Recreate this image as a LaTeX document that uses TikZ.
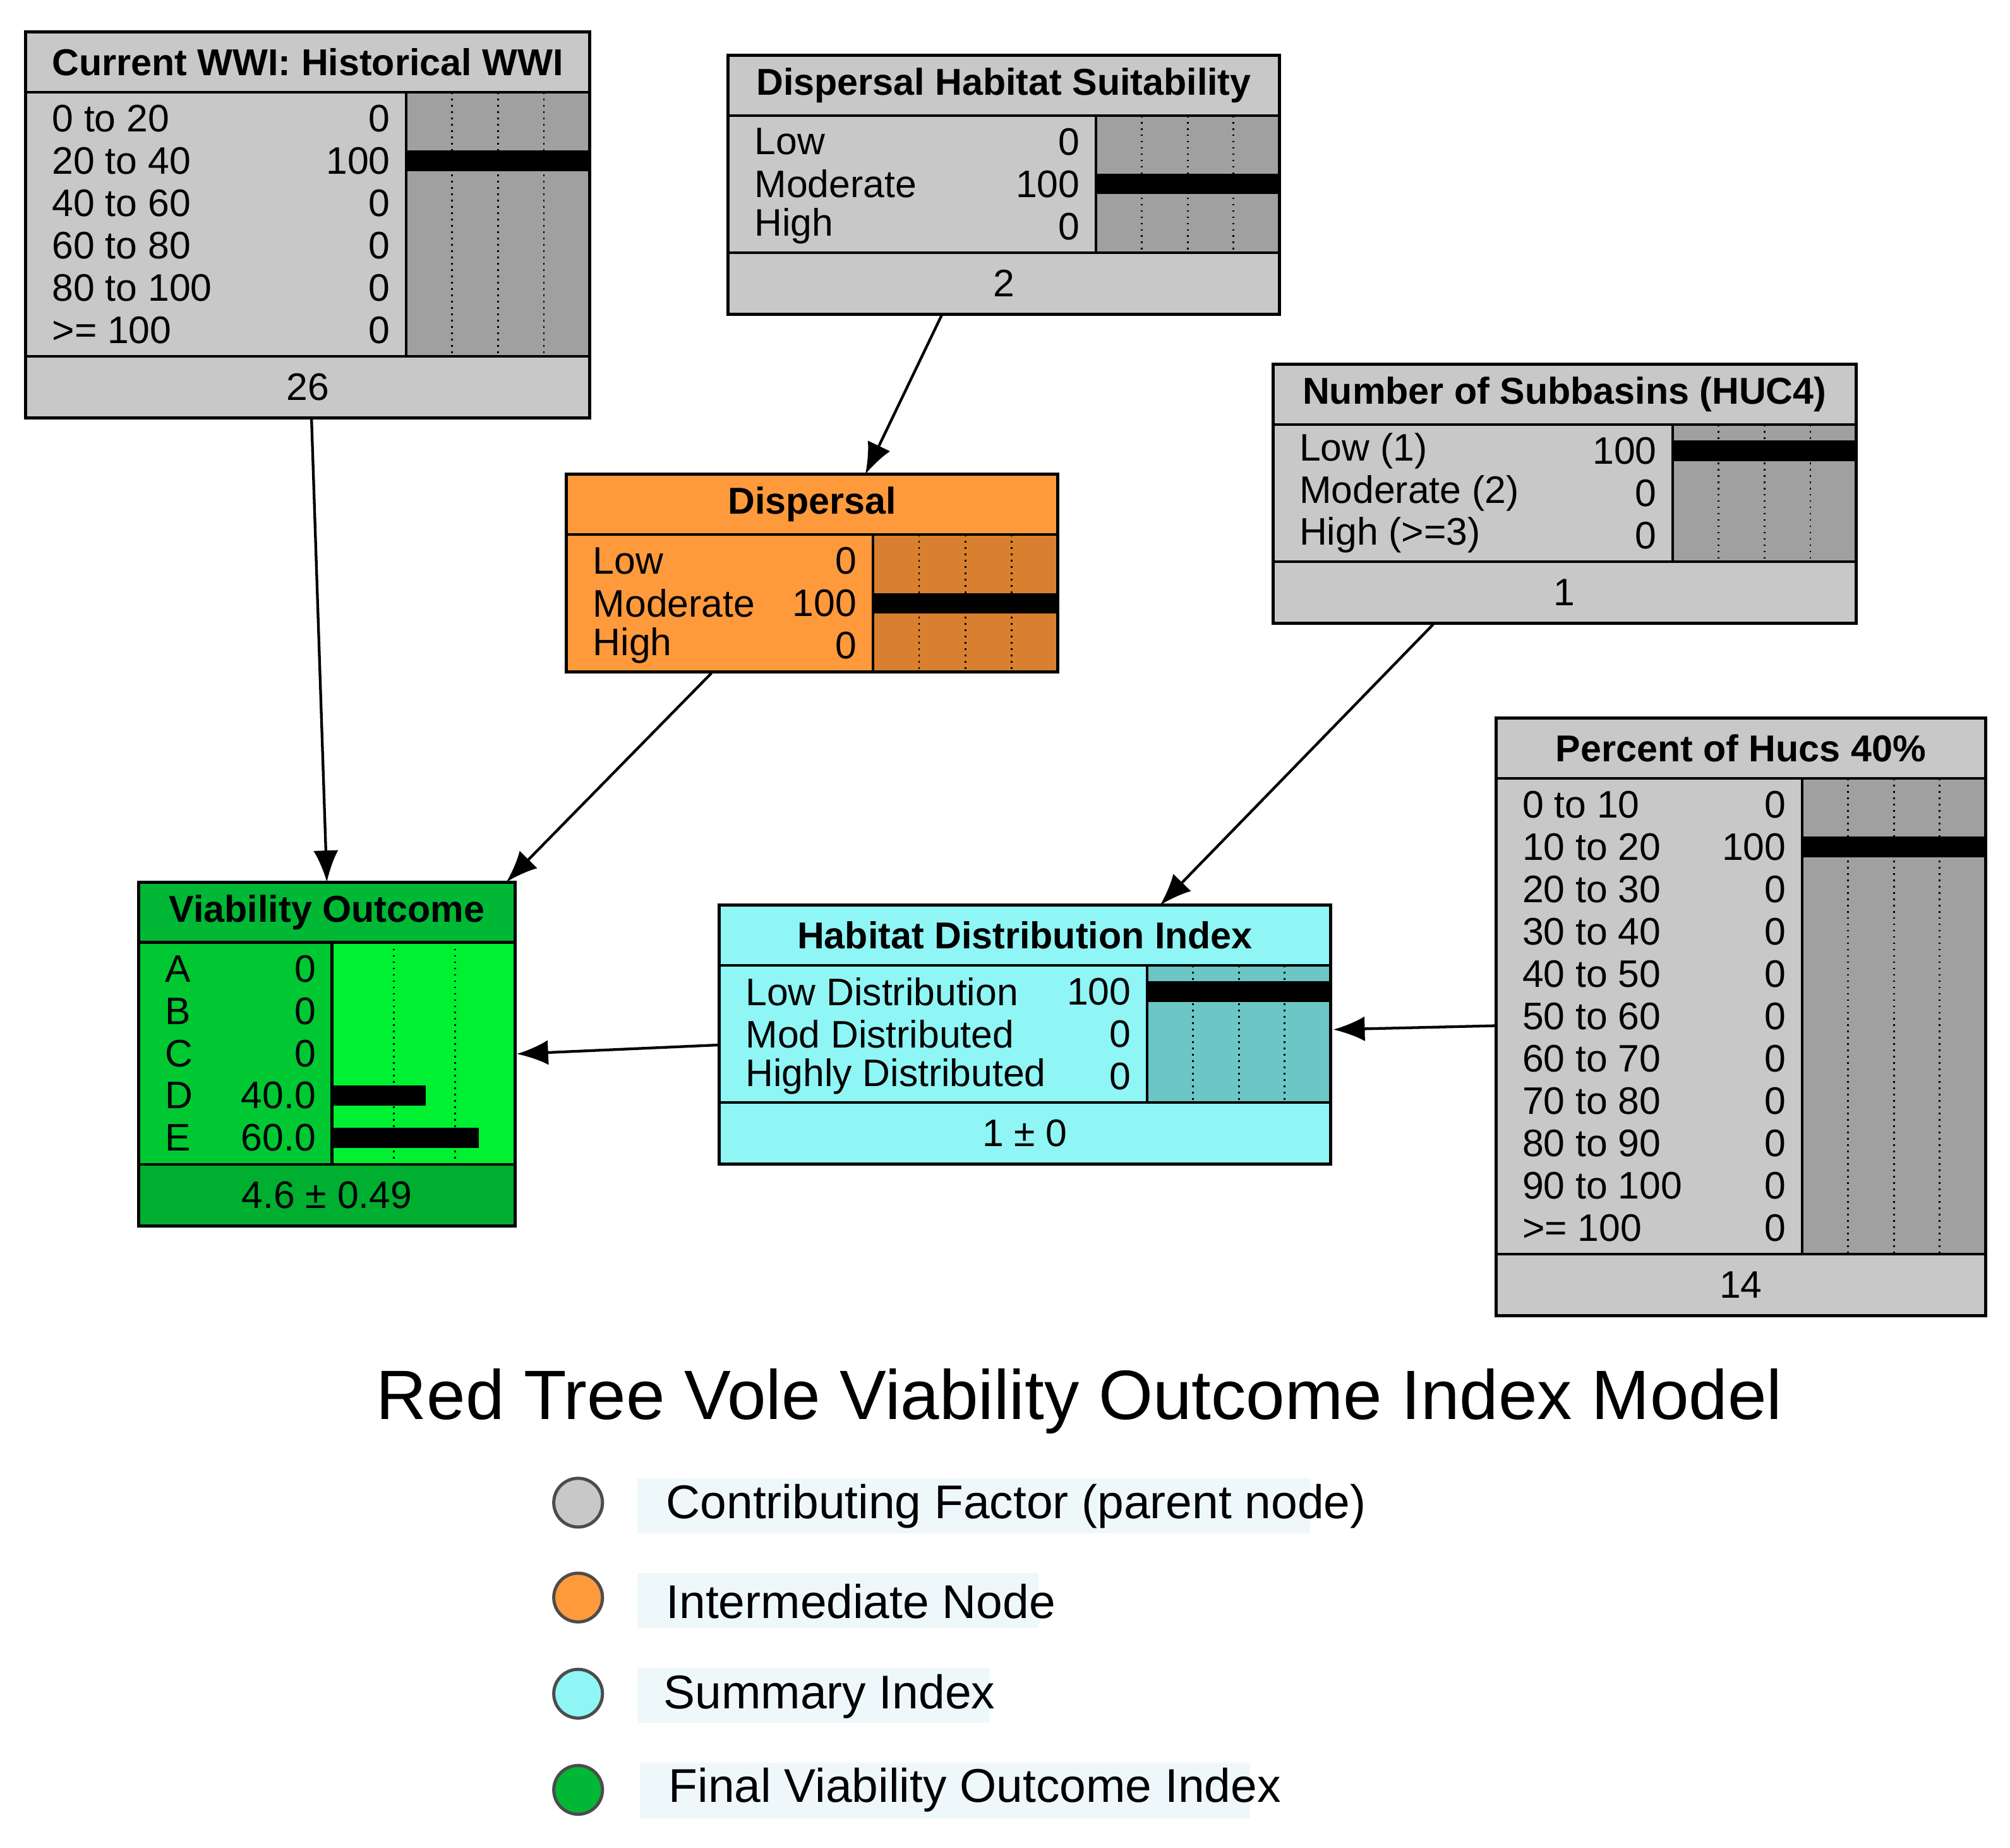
\documentclass[tikz,border=0pt]{standalone}
\usepackage{fontspec}
\setmainfont{Liberation Sans}
\usetikzlibrary{arrows.meta}
\definecolor{gT}{HTML}{C8C8C8}\definecolor{gL}{HTML}{C8C8C8}\definecolor{gB}{HTML}{A0A0A0}
\definecolor{oT}{HTML}{FF9A3C}\definecolor{oL}{HTML}{FF9A3C}\definecolor{oB}{HTML}{D98030}
\definecolor{cT}{HTML}{8FF5F5}\definecolor{cL}{HTML}{8FF5F5}\definecolor{cB}{HTML}{6CC6C6}
\definecolor{vT}{HTML}{00B836}\definecolor{vL}{HTML}{00C832}\definecolor{vB}{HTML}{00F032}\definecolor{vF}{HTML}{00AE30}
\definecolor{legbg}{HTML}{EEF8FA}
\newcommand\bnode[9]{%
 \pgfmathsetmacro\yr{#3+47}\pgfmathsetmacro\yb{\yr+#6*33+8}
 \if\relax\detokenize{#8}\relax\pgfmathsetmacro\yf{\yb}\else\pgfmathsetmacro\yf{\yb+48}\fi
 \fill[\cT] (#2,#3) rectangle (#4,\yr);
 \fill[\cL] (#2,\yr) rectangle (#5,\yb);
 \fill[\cB] (#5,\yr) rectangle (#4,\yb);
 \if\relax\detokenize{#8}\relax\else
  \fill[\cF] (#2,\yb) rectangle (#4,\yf);
  \node[txt] (#1-foot) at ({(#2+#4)/2},{\yb+24}) {#8};\fi
 \node[txt,font=\fontsize{8.3}{10}\selectfont\bfseries] (#1-title) at ({(#2+#4)/2},{#3+23.5}) {#7};
 \foreach \f in \dl {\draw[densely dotted,line width=0.4pt] ({#5+\f*(#4-#5)},\yr) -- ({#5+\f*(#4-#5)},\yb);}
 \foreach \l/\v/\f [count=\i] in {#9} {%
  \pgfmathsetmacro\yy{\yr+4+(\i-0.5)*33}
  \node[txt,anchor=west] (#1-l\i) at ({#2+20},\yy) {\l};
  \node[txt,anchor=east] (#1-v\i) at ({#5-12},\yy) {\v};
  \ifdim\f pt>0pt \fill ({#5},{\yy-8}) rectangle ({#5+\f*(#4-#5)},{\yy+8});\fi}
 \draw[line width=0.6pt] (#2,\yr) -- (#4,\yr) (#2,\yb) -- (#4,\yb) (#5,\yr) -- (#5,\yb);
 \draw[line width=0.7pt] (#2,#3) rectangle (#4,\yf);
 \coordinate (#1-nw) at (#2,#3); \coordinate (#1-se) at (#4,\yf);
}
\tikzset{txt/.style={inner sep=0pt,font=\fontsize{8.5}{10}\selectfont},
 arr/.style={-{Latex[length=7pt,width=5.5pt]},line width=0.6pt},
 leg/.style={inner sep=0pt,font=\fontsize{10.5}{12}\selectfont,anchor=west},
 dot/.style={circle,draw=black!70,line width=0.7pt,minimum size=0.38cm,inner sep=0pt}}
\begin{document}
\begin{tikzpicture}[x=0.01cm,y=-0.01cm]
\useasboundingbox (0,0) rectangle (1568,1441);
\def\cT{gT}\def\cL{gL}\def\cB{gB}\def\cF{gT}\def\dl{0.25,0.5,0.75}
\bnode{wwi}{20}{25}{460}{317}{6}{Current WWI: Historical WWI}{26}{0 to 20/0/0,20 to 40/100/1,40 to 60/0/0,60 to 80/0/0,80 to 100/0/0,>= 100/0/0}
\bnode{dhs}{568}{43}{998}{855}{3}{Dispersal Habitat Suitability}{2}{Low/0/0,Moderate/100/1,High/0/0}
\bnode{nsb}{993}{284}{1448}{1305}{3}{Number of Subbasins (HUC4)}{1}{Low (1)/100/1,Moderate (2)/0/0,High (>=3)/0/0}
\bnode{phu}{1167}{560}{1549}{1406}{11}{Percent of Hucs 40\%}{14}{0 to 10/0/0,10 to 20/100/1,20 to 30/0/0,30 to 40/0/0,40 to 50/0/0,50 to 60/0/0,60 to 70/0/0,70 to 80/0/0,80 to 90/0/0,90 to 100/0/0,>= 100/0/0}
\def\cT{oT}\def\cL{oL}\def\cB{oB}
\bnode{dis}{442}{370}{825}{681}{3}{Dispersal}{}{Low/0/0,Moderate/100/1,High/0/0}
\def\cT{cT}\def\cL{cL}\def\cB{cB}\def\cF{cT}
\bnode{hdi}{561}{706}{1038}{895}{3}{Habitat Distribution Index}{1 ± 0}{Low Distribution/100/1,Mod Distributed/0/0,Highly Distributed/0/0}
\def\cT{vT}\def\cL{vL}\def\cB{vB}\def\cF{vF}\def\dl{0.336,0.672}
\bnode{via}{108}{688}{402}{259}{5}{Viability Outcome}{4.6 ± 0.49}{A/0/0,B/0/0,C/0/0,D/40.0/0.51,E/60.0/0.8}
% connectors
\coordinate (a1s) at (243,326); \coordinate (a1e) at (255,688);
\coordinate (a2s) at (735,245); \coordinate (a2e) at (675,370);
\coordinate (a3s) at (555,525); \coordinate (a3e) at (395,688);
\coordinate (a4s) at (1118,487); \coordinate (a4e) at (905,706);
\coordinate (a5s) at (1167,800); \coordinate (a5e) at (1040,803);
\coordinate (a6s) at (561,815); \coordinate (a6e) at (403,822);
\draw[arr] (a1s) -- (a1e);
\draw[arr] (a2s) -- (a2e);
\draw[arr] (a3s) -- (a3e);
\draw[arr] (a4s) -- (a4e);
\draw[arr] (a5s) -- (a5e);
\draw[arr] (a6s) -- (a6e);
% title and legend
\node[inner sep=0pt,font=\fontsize{15.5}{18}\selectfont] (ttl) at (842,1093) {Red Tree Vole Viability Outcome Index Model};
\fill[legbg] (497,1153) rectangle (1022,1196);
\fill[legbg] (497,1227) rectangle (810,1270);
\fill[legbg] (497,1301) rectangle (772,1344);
\fill[legbg] (499,1375) rectangle (975,1418);
\node[dot,fill=gT] (l1) at (451,1172) {};
\node[dot,fill=oT] (l2) at (451,1246) {};
\node[dot,fill=cT] (l3) at (451,1321) {};
\node[dot,fill=vT] (l4) at (451,1396) {};
\node[leg] (t1) at (519,1175) {Contributing Factor (parent node)};
\node[leg] (t2) at (519,1249) {Intermediate Node};
\node[leg] (t3) at (517,1323) {Summary Index};
\node[leg] (t4) at (521,1396) {Final Viability Outcome Index};
\end{tikzpicture}
\end{document}
